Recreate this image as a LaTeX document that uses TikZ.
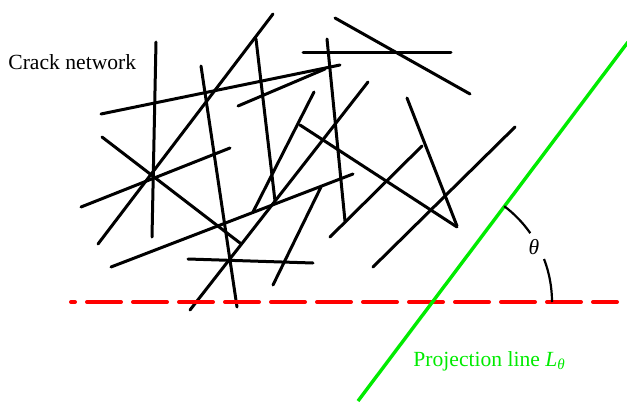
\documentclass[tikz,border=0pt]{standalone}
\usepackage{fontspec}
\setmainfont{Liberation Serif}
\definecolor{projgreen}{RGB}{0,235,0}
\begin{document}
\begin{tikzpicture}[x=0.5pt,y=-0.5pt,
    crack/.style={line width=1.5pt,line cap=round},
    baseline axis/.style={red,line width=2pt,line cap=round,dash pattern=on 17pt off 6pt,dash phase=15pt},
    projline/.style={projgreen,line width=1.7pt},
    label text/.style={font=\fontsize{10.8}{13}\selectfont,inner sep=0pt}]
\useasboundingbox (0,0) rectangle (627,402);
\foreach \xa/\ya/\xb/\yb in {156/42/152/237, 273/14/98/244, 101/114/340/65, 238/106/325/69,
    256/39/275/201, 201/66/237/307, 102/137/240/243, 81/207/230/148, 111/267/353/174,
    188/259/313/263, 190/310/368/82, 321/187/273/285, 327/39/345/221, 300/125/457/227,
    330/237/422/146, 373/267/515/127, 314/92/253/212, 335/18/470/94, 303/52/451/52,
    407/98/457/226}
    \draw[crack] (\xa,\ya) -- (\xb,\yb);
\coordinate (O) at (432,302);
\draw[baseline axis] (71,302) -- (617,302);
\draw[projline] (358,401) -- (628,42);
\draw[line width=1.1pt] (O) ++(0:120) arc (0:-21:120);
\draw[line width=1.1pt] (O) ++(-35:120) arc (-35:-53:120);
\node[label text] (theta) at (534,247) {\textit{θ}};
\node[label text,anchor=base west] (crack) at (8,69) {Crack network};
\node[label text,anchor=base west,text=projgreen] (proj) at (413,366) {Projection line \textit{L}\textsubscript{\textit{θ}}};
\end{tikzpicture}
\end{document}
